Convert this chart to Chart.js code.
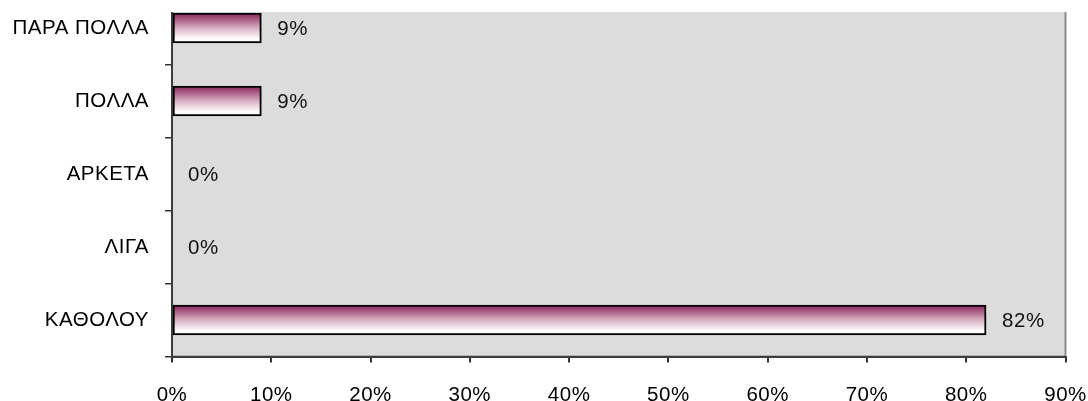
<!DOCTYPE html>
<html>
<head>
<meta charset="utf-8">
<script src="https://cdn.jsdelivr.net/npm/chart.js@4.4.1/dist/chart.umd.min.js"></script>
<style>
  html, body { margin: 0; padding: 0; background: #ffffff; }
  body { width: 1088px; height: 401px; overflow: hidden; position: relative; }
  #frame { position: absolute; left: 0; top: 12px; width: 1088px; height: 389px; overflow: hidden; }
  #chart { position: absolute; left: 0; top: -32px; }
</style>
</head>
<body>
<div id="frame"><canvas id="chart" width="1088" height="440"></canvas></div>
<script>
// Answer categories (top to bottom) and share of responses in percent
const categories = ['ΠΑΡΑ ΠΟΛΛΑ', 'ΠΟΛΛΑ', 'ΑΡΚΕΤΑ', 'ΛΙΓΑ', 'ΚΑΘΟΛΟΥ'];
const shares = [9, 9, 0, 0, 82];
// Horizontal axis range and step, in percent
const axisMin = 0;
const axisMax = 90;
const axisStep = 10;

const FONT = { family: '"Liberation Sans", Arial, sans-serif', size: 20.5 };
const BAR_HALF = 15;

// Plum-to-white vertical fill for each bar, computed from the category scale
function barFill(context) {
  const chart = context.chart;
  const yScale = chart.scales.y;
  if (!yScale || !chart.chartArea) return '#953565';
  const cy = yScale.getPixelForValue(context.dataIndex);
  const g = chart.ctx.createLinearGradient(0, cy - BAR_HALF, 0, cy + BAR_HALF);
  g.addColorStop(0, '#8e2c5c');
  g.addColorStop(0.12, '#9a426f');
  g.addColorStop(0.5, '#d7b0c3');
  g.addColorStop(0.85, '#fdfbfc');
  g.addColorStop(1, '#ffffff');
  return g;
}

// Keep the plot area exactly where the layout padding puts it
function noEdgePadding(scale) {
  scale.paddingTop = 0;
  scale.paddingBottom = 0;
  scale.paddingLeft = 0;
  scale.paddingRight = 0;
}

// Grey plot area with a thin grey frame; slightly open letter spacing for all text
const plotBackground = {
  id: 'plotBackground',
  beforeDraw(chart) {
    const { ctx, chartArea: a } = chart;
    ctx.letterSpacing = '0.5px';
    ctx.save();
    ctx.fillStyle = '#dcdcdc';
    ctx.fillRect(a.left, a.top, a.right - a.left, a.bottom - a.top);
    ctx.strokeStyle = '#8a8a8a';
    ctx.lineWidth = 2;
    ctx.strokeRect(a.left, a.top, a.right - a.left, a.bottom - a.top);
    ctx.restore();
  }
};

// Percentage written just past the end of each bar
const valueLabels = {
  id: 'valueLabels',
  afterDatasetsDraw(chart) {
    const { ctx } = chart;
    const meta = chart.getDatasetMeta(0);
    ctx.save();
    ctx.font = FONT.size + 'px ' + FONT.family;
    ctx.fillStyle = '#111111';
    ctx.textAlign = 'left';
    ctx.textBaseline = 'middle';
    meta.data.forEach((bar, i) => {
      ctx.fillText(shares[i] + '%', bar.x + 16, bar.y + 1);
    });
    ctx.restore();
  }
};

new Chart(document.getElementById('chart'), {
  type: 'bar',
  data: {
    labels: categories,
    datasets: [{
      data: shares,
      backgroundColor: barFill,
      borderColor: '#000000',
      borderWidth: 2,
      borderSkipped: false,
      barThickness: BAR_HALF * 2
    }]
  },
  options: {
    indexAxis: 'y',
    responsive: false,
    animation: false,
    devicePixelRatio: 1,
    layout: { padding: { left: 0, right: 22.5, top: 11.5, bottom: 0 } },
    plugins: {
      legend: { display: false },
      tooltip: { enabled: false },
      title: { display: false }
    },
    scales: {
      x: {
        type: 'linear',
        min: axisMin,
        max: axisMax,
        afterFit(scale) { scale.height = 63.5; noEdgePadding(scale); },
        afterBuildTicks(scale) {
          const t = [];
          for (let v = axisMin; v <= axisMax; v += axisStep) t.push({ value: v });
          scale.ticks = t;
        },
        ticks: {
          color: '#000000',
          font: FONT,
          padding: 21,
          maxRotation: 0,
          autoSkip: false,
          callback: (v) => v + '%'
        },
        grid: {
          drawOnChartArea: false,
          drawTicks: true,
          tickLength: 6,
          color: '#333333',
          lineWidth: 2
        },
        border: { display: true, color: '#3c3c3c', width: 2 }
      },
      y: {
        type: 'category',
        offset: true,
        afterFit(scale) { scale.width = 172; noEdgePadding(scale); },
        ticks: {
          color: '#000000',
          font: FONT,
          padding: 16,
          autoSkip: false
        },
        grid: {
          offset: true,
          drawOnChartArea: false,
          drawTicks: true,
          tickLength: 7,
          color: '#333333',
          lineWidth: 1.5
        },
        border: { display: true, color: '#3c3c3c', width: 2 }
      }
    }
  },
  plugins: [plotBackground, valueLabels]
});
</script>
</body>
</html>
